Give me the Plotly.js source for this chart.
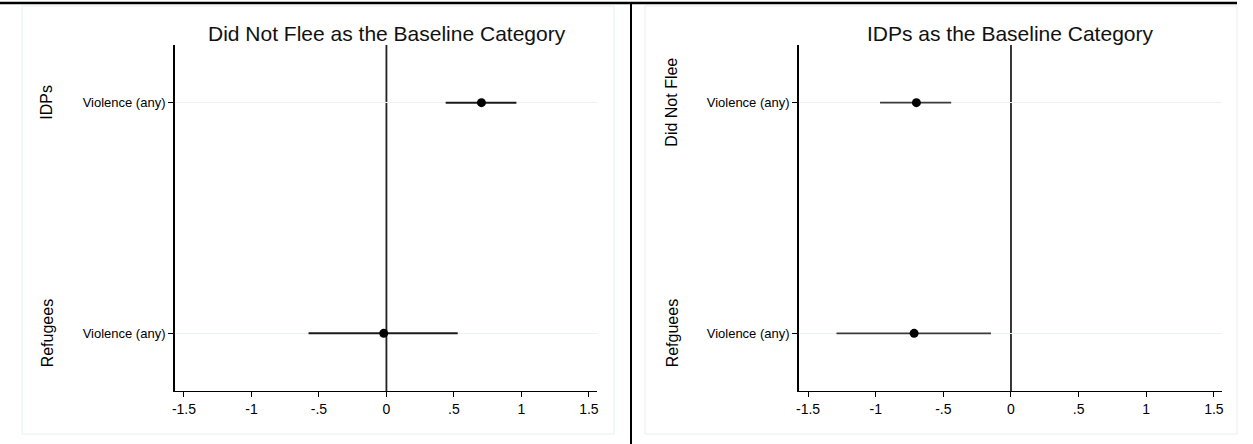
<!DOCTYPE html>
<html>
<head>
<meta charset="utf-8">
<script src="https://cdn.plot.ly/plotly-3.0.1.min.js"></script>
<style>
html,body{margin:0;padding:0;background:#fff;}
#chart{width:1253px;height:444px;}
</style>
</head>
<body>
<div id="chart"></div>
<script>
// ---- data ----
const rowLabels = ['Violence (any)', 'Violence (any)'];
const xTickVals = [-1.5, -1, -0.5, 0, 0.5, 1, 1.5];
const xTickText = ['-1.5', '-1', '-.5', '0', '.5', '1', '1.5'];

const leftTitle = 'Did Not Flee as the Baseline Category';
const leftGroups = ['IDPs', 'Refugees'];
const leftCoef = [0.704, -0.02];
const leftLo = [0.439, -0.577];
const leftHi = [0.963, 0.528];

const rightTitle = 'IDPs as the Baseline Category';
const rightGroups = ['Did Not Flee', 'Refguees'];
const rightCoef = [-0.699, -0.716];
const rightLo = [-0.968, -1.29];
const rightHi = [-0.442, -0.148];

// ---- layout helpers ----
const W = 1253, H = 444;
const px = v => v / W;
const py = v => 1 - v / H;
const FONT = '"Liberation Sans", Arial, sans-serif';
const rows = rowLabels.map((_, i) => i + 1);

function trace(coef, lo, hi, xa, ya, color, thick) {
  return {
    type: 'scatter', mode: 'markers',
    x: coef, y: rows, xaxis: xa, yaxis: ya,
    marker: {color: '#000', size: 9},
    error_x: {
      type: 'data', symmetric: false,
      array: hi.map((h, i) => h - coef[i]),
      arrayminus: lo.map((l, i) => coef[i] - l),
      width: 0, thickness: thick, color: color
    },
    hoverinfo: 'skip', showlegend: false
  };
}

const data = [
  trace(leftCoef, leftLo, leftHi, 'x', 'y', '#1a1a1a', 2),
  trace(rightCoef, rightLo, rightHi, 'x2', 'y2', '#3a3a3a', 1.6)
];

const yDom = [py(391), py(45)];
function xaxis(dom, anchor) {
  return {
    domain: dom, anchor: anchor, range: [-1.57, 1.56],
    tickmode: 'array', tickvals: xTickVals, ticktext: xTickText,
    ticks: 'outside', ticklen: 5, tickwidth: 1, tickcolor: '#000',
    showline: true, linecolor: '#000', linewidth: 1.4,
    showgrid: false, zeroline: false,
    tickfont: {family: FONT, size: 14, color: '#000'}
  };
}
function yaxis(anchor) {
  return {
    domain: yDom, anchor: anchor, range: [2.25, 0.75],
    tickmode: 'array', tickvals: rows, ticktext: rowLabels,
    ticks: 'outside', ticklen: 5, tickwidth: 1, tickcolor: '#000',
    showline: true, linecolor: '#000', linewidth: 1.4,
    showgrid: true, gridcolor: '#e9f1f2', gridwidth: 1,
    zeroline: false,
    tickfont: {family: FONT, size: 13, color: '#000'}
  };
}

const annotations = [
  {text: leftTitle, xref: 'paper', yref: 'paper', x: px(387), y: py(33),
   xanchor: 'center', yanchor: 'middle', showarrow: false,
   font: {family: FONT, size: 21, color: '#111'}},
  {text: rightTitle, xref: 'paper', yref: 'paper', x: px(1010), y: py(33),
   xanchor: 'center', yanchor: 'middle', showarrow: false,
   font: {family: FONT, size: 21, color: '#111'}}
];
leftGroups.forEach((g, i) => annotations.push({
  text: g, xref: 'paper', yref: 'y', x: px(47), y: rows[i],
  xanchor: 'center', yanchor: 'middle', textangle: -90, showarrow: false,
  font: {family: FONT, size: 16, color: '#000'}
}));
rightGroups.forEach((g, i) => annotations.push({
  text: g, xref: 'paper', yref: 'y2', x: px(672), y: rows[i],
  xanchor: 'center', yanchor: 'middle', textangle: -90, showarrow: false,
  font: {family: FONT, size: 16, color: '#000'}
}));

const shapes = [
  // panel outlines
  {type: 'rect', xref: 'paper', yref: 'paper', x0: px(22), x1: px(614), y0: py(434), y1: py(6),
   line: {color: '#e6eff0', width: 1}, layer: 'below'},
  {type: 'rect', xref: 'paper', yref: 'paper', x0: px(645), x1: px(1237), y0: py(434), y1: py(6),
   line: {color: '#e6eff0', width: 1}, layer: 'below'},
  // zero reference lines
  {type: 'line', xref: 'x', yref: 'y domain', x0: 0, x1: 0, y0: 0, y1: 1,
   line: {color: '#222', width: 1.8}, layer: 'below'},
  {type: 'line', xref: 'x2', yref: 'y2 domain', x0: 0, x1: 0, y0: 0, y1: 1,
   line: {color: '#222', width: 1.8}, layer: 'below'},
  // page rules
  {type: 'line', xref: 'paper', yref: 'paper', x0: 0, x1: px(1237), y0: py(3), y1: py(3),
   line: {color: '#000', width: 2.5}},
  {type: 'line', xref: 'paper', yref: 'paper', x0: px(631), x1: px(631), y0: py(3), y1: 0,
   line: {color: '#000', width: 2}}
];

const layout = {
  width: W, height: H,
  margin: {l: 0, r: 0, t: 0, b: 0},
  paper_bgcolor: '#fff', plot_bgcolor: 'rgba(0,0,0,0)',
  showlegend: false,
  xaxis: xaxis([px(174.5), px(597)], 'y'),
  yaxis: yaxis('x'),
  xaxis2: xaxis([px(798.6), px(1222)], 'y2'),
  yaxis2: yaxis('x2'),
  annotations: annotations,
  shapes: shapes,
  font: {family: FONT}
};

Plotly.newPlot('chart', data, layout, {displayModeBar: false, staticPlot: true});
</script>
</body>
</html>
